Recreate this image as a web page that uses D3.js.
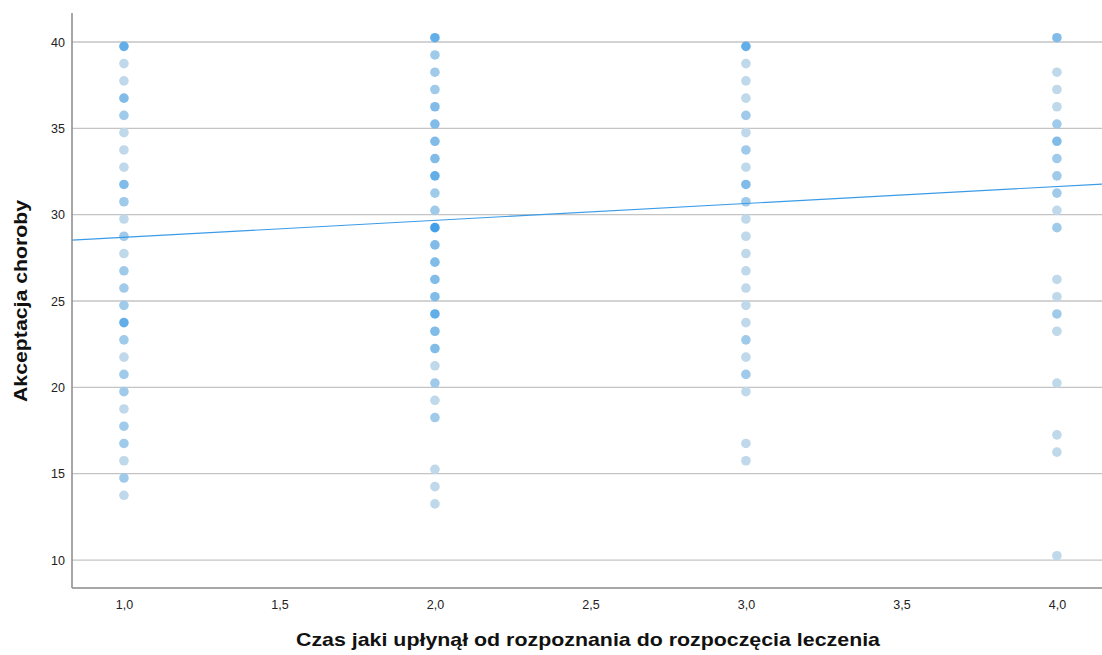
<!DOCTYPE html>
<html>
<head>
<meta charset="utf-8">
<script src="https://cdn.jsdelivr.net/npm/d3@7"></script>
<style>
  html, body { margin: 0; padding: 0; background: #fff; }
  svg { display: block; font-family: "Liberation Sans", Arial, sans-serif; }
</style>
</head>
<body>
<svg id="chart" width="1102" height="655"></svg>
<script>
// Groups on the x axis (time from diagnosis to start of treatment)
const groups = [1, 2, 3, 4];

// Acceptance-of-illness scores observed in each group
const scores1 = [39.75, 38.75, 37.75, 36.75, 35.75, 34.75, 33.75, 32.75, 31.75, 30.75, 29.75, 28.75, 27.75, 26.75,
                 25.75, 24.75, 23.75, 22.75, 21.75, 20.75, 19.75, 18.75, 17.75, 16.75, 15.75, 14.75, 13.75];
const counts1 = [4, 1, 1, 3, 2, 1, 1, 1, 3, 2, 1, 2, 1, 2, 2, 2, 4, 2, 1, 2, 2, 1, 2, 2, 1, 2, 1];

const scores2 = [40.25, 39.25, 38.25, 37.25, 36.25, 35.25, 34.25, 33.25, 32.25, 31.25, 30.25, 29.25, 28.25,
                 27.25, 26.25, 25.25, 24.25, 23.25, 22.25, 21.25, 20.25, 19.25, 18.25, 15.25, 14.25, 13.25];
const counts2 = [4, 2, 2, 2, 3, 3, 3, 3, 4, 2, 2, 5, 3, 3, 3, 3, 4, 3, 3, 1, 2, 1, 2, 1, 1, 1];

const scores3 = [39.75, 38.75, 37.75, 36.75, 35.75, 34.75, 33.75, 32.75, 31.75, 30.75, 29.75, 28.75, 27.75,
                 26.75, 25.75, 24.75, 23.75, 22.75, 21.75, 20.75, 19.75, 16.75, 15.75];
const counts3 = [4, 1, 1, 1, 2, 1, 2, 1, 3, 2, 1, 1, 1, 1, 1, 1, 1, 2, 1, 2, 1, 1, 1];

const scores4 = [40.25, 38.25, 37.25, 36.25, 35.25, 34.25, 33.25, 32.25, 31.25, 30.25, 29.25, 26.25, 25.25,
                 24.25, 23.25, 20.25, 17.25, 16.25, 10.25];
const counts4 = [3, 1, 1, 1, 2, 3, 2, 2, 2, 1, 2, 1, 1, 2, 1, 1, 1, 1, 1];

// Linear fit line
const fitIntercept = 27.71;
const fitSlope = 0.98;

// Axis ticks
const xTicks = [1, 1.5, 2, 2.5, 3, 3.5, 4];
const yTicks = [10, 15, 20, 25, 30, 35, 40];

const xTitle = "Czas jaki upłynął od rozpoznania do rozpoczęcia leczenia";
const yTitle = "Akceptacja choroby";

// ---- drawing ----
const svg = d3.select("#chart");
const plotLeft = 72, plotRight = 1102, plotTop = 13, plotBottom = 588;

const x = d3.scaleLinear().domain([0.833, 4.145]).range([plotLeft, plotRight]);
const y = d3.scaleLinear().domain([8.38, 41.68]).range([plotBottom, plotTop]);
const shade = d3.scaleLinear().domain([1, 5]).range(["#bfd8ea", "#43a0e8"]).clamp(true);

const points = [];
[[scores1, counts1], [scores2, counts2], [scores3, counts3], [scores4, counts4]].forEach(([s, c], gi) => {
  s.forEach((v, i) => points.push({ g: groups[gi], v, n: c[i] }));
});

// horizontal gridlines
svg.append("g")
  .selectAll("line")
  .data(yTicks)
  .join("line")
  .attr("x1", plotLeft).attr("x2", plotRight)
  .attr("y1", d => y(d)).attr("y2", d => y(d))
  .attr("stroke", "#c4c4c4")
  .attr("stroke-width", 1.3);

// points
svg.append("g")
  .selectAll("circle")
  .data(points)
  .join("circle")
  .attr("cx", d => x(d.g))
  .attr("cy", d => y(d.v))
  .attr("r", 4.8)
  .attr("fill", d => shade(d.n));

// fit line
const xd = x.domain();
svg.append("line")
  .attr("x1", x(xd[0])).attr("y1", y(fitIntercept + fitSlope * xd[0]))
  .attr("x2", x(xd[1])).attr("y2", y(fitIntercept + fitSlope * xd[1]))
  .attr("stroke", "#3b9be6")
  .attr("stroke-width", 1.1);

// axes
const fmt = d => d.toFixed(1).replace(".", ",");
const xAxis = svg.append("g")
  .attr("transform", `translate(0,${plotBottom})`)
  .call(d3.axisBottom(x).tickValues(xTicks).tickFormat(fmt).tickSize(0).tickPadding(12));
const yAxis = svg.append("g")
  .attr("transform", `translate(${plotLeft},0)`)
  .call(d3.axisLeft(y).tickValues(yTicks).tickFormat(d3.format("d")).tickSize(0).tickPadding(7));

[xAxis, yAxis].forEach(a => {
  a.select(".domain").attr("stroke", "#8a8a8a").attr("stroke-width", 1.5);
  a.selectAll("text").attr("fill", "#222").style("font-size", "12.5px")
    .style("font-family", "'Liberation Sans', Arial, sans-serif");
});
yAxis.select(".domain").attr("d", `M0,${plotTop}V${plotBottom}`);
xAxis.select(".domain").attr("d", `M${plotLeft},0H${plotRight}`);

// axis titles
svg.append("text")
  .attr("x", 296)
  .attr("y", 646)
  .attr("textLength", 584)
  .attr("lengthAdjust", "spacingAndGlyphs")
  .style("font-size", "19px")
  .style("font-weight", "bold")
  .attr("fill", "#111")
  .text(xTitle);

svg.append("text")
  .attr("transform", "translate(27,402) rotate(-90)")
  .attr("textLength", 202)
  .attr("lengthAdjust", "spacingAndGlyphs")
  .style("font-size", "18px")
  .style("font-weight", "bold")
  .attr("fill", "#111")
  .text(yTitle);
</script>
</body>
</html>
